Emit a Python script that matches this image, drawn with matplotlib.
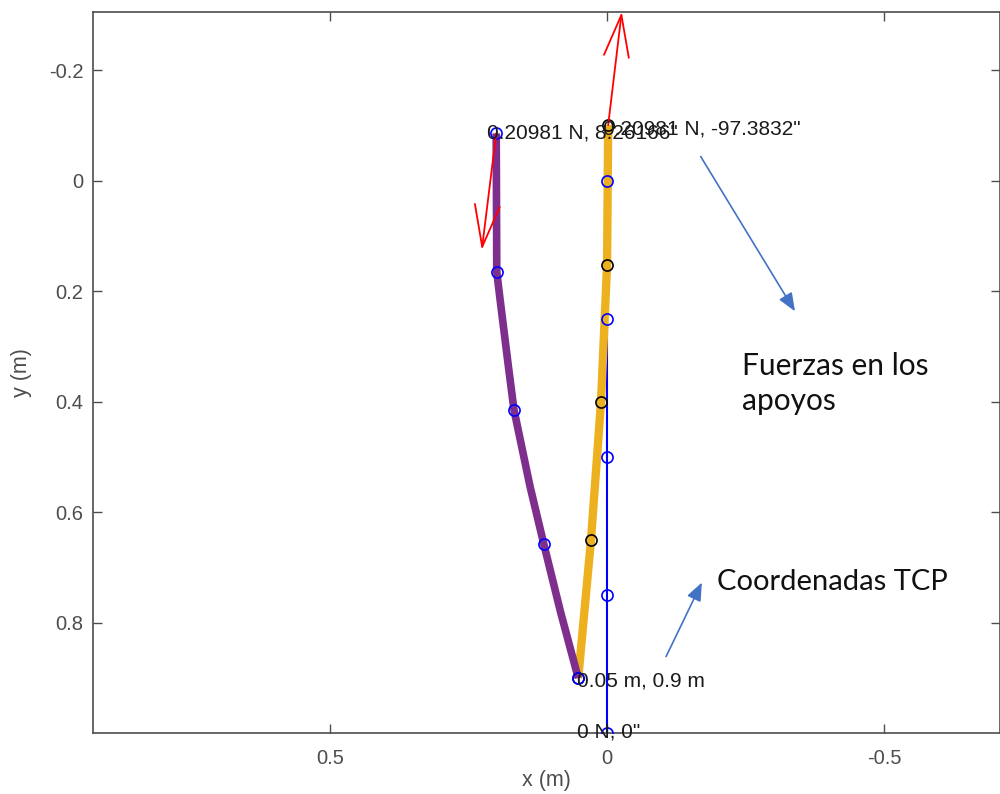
import matplotlib
matplotlib.use("Agg")
import matplotlib.pyplot as plt

# ── Data (metres) ────────────────────────────────────────────────────────
# undeformed reference beam (blue, x = 0)
ref_x = [0.0, 0.0, 0.0, 0.0, 0.0]
ref_y = [0.0, 0.25, 0.50, 0.75, 1.0]

# deformed beam (purple) traced along its length, plus its node circles
purple_x = [0.200, 0.199, 0.193, 0.178, 0.168, 0.139, 0.114, 0.084, 0.052]
purple_y = [-0.086, 0.165, 0.215, 0.336, 0.414, 0.553, 0.658, 0.780, 0.900]
purple_nodes_x = [0.200, 0.199, 0.168, 0.114, 0.052]
purple_nodes_y = [-0.086, 0.165, 0.414, 0.658, 0.900]

# second link (yellow) with black node circles
yellow_x = [-0.002, 0.000, 0.011, 0.029, 0.052]
yellow_y = [-0.101, 0.152, 0.401, 0.650, 0.900]

# support forces: base point and vector
force_x = [0.200, -0.002]
force_y = [-0.086, -0.101]
force_u = [0.026, -0.0245]
force_v = [0.211, -0.205]

# text labels (position = left edge, vertical centre)
labels = ["0.20981 N, 8.26166\"", "0.20981 N, -97.3832\"",
          "0.05 m, 0.9 m", "0 N, 0\""]
label_x = [0.2166, 0.007, 0.054, 0.054]
label_y = [-0.086, -0.094, 0.906, 0.998]

PURPLE = "#7e2f8e"
YELLOW = "#edb120"
NOTE = "#4472c4"
AXC = "#4d4d4d"

fig = plt.figure(figsize=(10, 7.94), dpi=100)
ax = fig.add_axes([0.0933, 0.0764, 0.9067, 0.908])

ax.plot(ref_x, ref_y, color="blue", lw=1.5, zorder=1)
ax.plot(yellow_x, yellow_y, color=YELLOW, lw=6, zorder=2,
        solid_capstyle="butt")
ax.plot(purple_x, purple_y, color=PURPLE, lw=5.5, zorder=3,
        solid_capstyle="butt")
ax.plot(yellow_x, yellow_y, "o", ms=8, mfc="none", mec="black", mew=1.2,
        zorder=4)
ax.plot(ref_x, ref_y, "o", ms=8, mfc="none", mec="blue", mew=1.2, zorder=5)
ax.plot(purple_nodes_x, purple_nodes_y, "o", ms=8, mfc="none", mec="blue",
        mew=1.2, zorder=5)

for x0, y0, u, v in zip(force_x, force_y, force_u, force_v):
    ax.annotate("", xy=(x0 + u, y0 + v), xytext=(x0, y0),
                arrowprops=dict(arrowstyle="->,head_length=3,head_width=0.9",
                                color="red", lw=1.3, shrinkA=0, shrinkB=0,
                                mutation_scale=10),
                zorder=6, annotation_clip=False)

for s, x0, y0 in zip(labels, label_x, label_y):
    ax.text(x0, y0, s, ha="left", va="center", fontsize=15,
            family="Liberation Sans", color="#1a1a1a", zorder=7)

# hand-drawn notes
ax.annotate("", xy=(-0.339, 0.236), xytext=(-0.169, -0.044),
            arrowprops=dict(arrowstyle="-|>,head_length=1.1,head_width=0.45",
                            color=NOTE, lw=1.2, shrinkA=0, shrinkB=0,
                            mutation_scale=10))
ax.annotate("", xy=(-0.171, 0.727), xytext=(-0.1065, 0.861),
            arrowprops=dict(arrowstyle="-|>,head_length=1.1,head_width=0.45",
                            color=NOTE, lw=1.2, shrinkA=0, shrinkB=0,
                            mutation_scale=10))
ax.text(-0.244, 0.414, "Fuerzas en los\napoyos", ha="left", va="baseline",
        fontsize=21.5, family="Lato", color="#111111", linespacing=1.3)
ax.text(-0.199, 0.740, "Coordenadas TCP", ha="left", va="baseline",
        fontsize=21, family="Lato", color="#111111")

ax.set_xlim(0.927, -0.709)
ax.set_ylim(1.0, -0.305)
ax.set_xticks([0.5, 0, -0.5])
ax.set_xticklabels(["0.5", "0", "-0.5"])
ax.set_yticks([-0.2, 0, 0.2, 0.4, 0.6, 0.8])
ax.set_yticklabels(["-0.2", "0", "0.2", "0.4", "0.6", "0.8"])
ax.tick_params(direction="in", length=6.5, width=1.0, color=AXC,
               labelcolor=AXC, labelsize=14.5, top=True, right=True)
ax.tick_params(axis="y", pad=7)
ax.tick_params(axis="x", pad=11)
for lab in ax.get_xticklabels() + ax.get_yticklabels():
    lab.set_family("Liberation Sans")
for sp in ax.spines.values():
    sp.set_color(AXC)
    sp.set_linewidth(1.2)

ax.set_xlabel("x (m)", fontsize=15.5, family="Liberation Sans", color=AXC,
              labelpad=1.5)
ax.set_ylabel("y (m)", fontsize=15.5, family="Liberation Sans", color=AXC,
              labelpad=12)

fig.savefig("out.png", dpi=100)
